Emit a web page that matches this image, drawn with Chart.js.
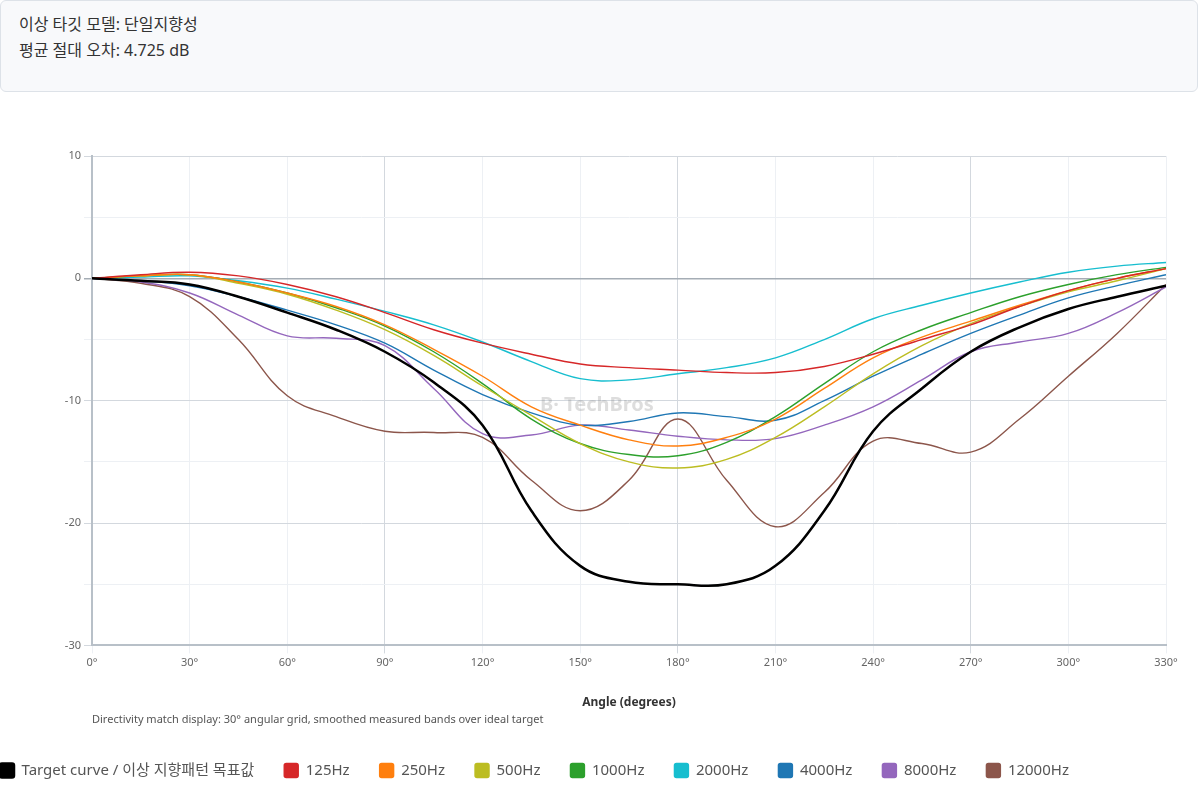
<!DOCTYPE html>
<html>
<head>
<meta charset="utf-8">
<script src="https://cdn.jsdelivr.net/npm/chart.js@4"></script>
<style>
  body { margin: 0; font-family: "Noto Sans", "Noto Sans CJK KR", sans-serif; background: #fff; overflow: hidden; }
  .info { position: absolute; left: 0; top: 0; width: 1198px; height: 92px; background: #f8f9fb;
    border: 1px solid #dde2e8; border-radius: 6px; box-sizing: border-box; padding: 10px 18px;
    font-size: 16px; line-height: 26px; color: #333; }
  .wrap { position: absolute; left: -30px; top: 120px; width: 1230px; height: 680px; }
  .note { position: absolute; left: 92px; top: 711px; font-size: 11px; color: #555; }
  .mark { position: absolute; left: 540px; top: 390px; font-size: 20px; color: rgba(120,120,120,0.25); font-weight: bold; }
</style>
</head>
<body>
<div class="info">이상 타깃 모델: 단일지향성<br>평균 절대 오차: 4.725 dB</div>
<div class="wrap"><canvas id="c"></canvas></div>
<div class="note">Directivity match display: 30° angular grid, smoothed measured bands over ideal target</div>
<div class="mark">B· TechBros</div>
<script>
// ---------- DATA ----------
const angles = [0, 15, 30, 45, 60, 75, 90, 105, 120, 135, 150, 165, 180, 195, 210, 225, 240, 255, 270, 285, 300, 315, 330];

const target = [0, -0.2, -0.5, -1.5, -2.8, -4.2, -6, -8.5, -12, -19, -23.5, -24.8, -25, -25, -23.5, -19, -12.5, -9, -6, -4, -2.5, -1.5, -0.6];
const hz125 = [0, 0.3, 0.5, 0.2, -0.5, -1.5, -2.8, -4.2, -5.3, -6.2, -7, -7.3, -7.5, -7.7, -7.7, -7.2, -6.2, -5, -3.8, -2.3, -1, 0, 0.8];
const hz250 = [0, 0.2, 0.3, -0.3, -1.2, -2.3, -3.8, -5.8, -8, -10.5, -12, -13.2, -13.7, -13, -11.5, -9, -6.5, -4.8, -3.5, -2.2, -1, 0, 0.8];
const hz500 = [0, 0.2, 0.3, -0.4, -1.3, -2.6, -4.2, -6.3, -8.8, -11.2, -13.5, -15, -15.5, -14.8, -13, -10.5, -7.8, -5.5, -3.7, -2.3, -1.1, -0.2, 0.8];
const hz1000 = [0, 0.2, 0.3, -0.3, -1.2, -2.4, -3.9, -6, -8.6, -11.5, -13.5, -14.4, -14.5, -13.4, -11.3, -8.6, -6, -4.2, -2.8, -1.5, -0.5, 0.3, 0.9];
const hz2000 = [0, 0.1, 0.2, -0.2, -0.8, -1.7, -2.7, -3.8, -5.2, -6.8, -8.2, -8.3, -7.8, -7.3, -6.5, -5, -3.3, -2.2, -1.2, -0.3, 0.5, 1, 1.3];
const hz4000 = [0, -0.2, -0.6, -1.5, -2.6, -3.8, -5.3, -7.5, -9.5, -11, -12, -11.7, -11, -11.3, -11.6, -10, -8, -6.2, -4.5, -3, -1.6, -0.6, 0.3];
const hz8000 = [0, -0.3, -1.2, -3, -4.7, -4.9, -5.5, -9, -12.7, -12.8, -12, -12.4, -12.9, -13.2, -13.1, -12, -10.5, -8.3, -6, -5.2, -4.5, -2.8, -0.7];
const hz12000 = [0, -0.4, -1.5, -5, -9.6, -11.3, -12.5, -12.6, -13, -16.5, -19, -16.5, -11.5, -16.5, -20.3, -17.5, -13.3, -13.5, -14.2, -11.5, -8, -4.5, -0.5];

const bands = [
  { label: "125Hz", data: hz125, color: "#d62728" },
  { label: "250Hz", data: hz250, color: "#ff7f0e" },
  { label: "500Hz", data: hz500, color: "#bcbd22" },
  { label: "1000Hz", data: hz1000, color: "#2ca02c" },
  { label: "2000Hz", data: hz2000, color: "#17becf" },
  { label: "4000Hz", data: hz4000, color: "#1f77b4" },
  { label: "8000Hz", data: hz8000, color: "#9467bd" },
  { label: "12000Hz", data: hz12000, color: "#8c564b" }
];

const pts = arr => arr.map((v, i) => ({ x: angles[i], y: v }));

// ---------- CHART ----------
const datasets = [{
  label: "Target curve / 이상 지향패턴 목표값",
  data: pts(target),
  borderColor: "#000", backgroundColor: "#000",
  borderWidth: 2.5, pointRadius: 0, tension: 0.4, order: 0
}].concat(bands.map(b => ({
  label: b.label, data: pts(b.data),
  borderColor: b.color, backgroundColor: b.color,
  borderWidth: 1.4, pointRadius: 0, tension: 0.4
})));

Chart.defaults.font.family = '"Noto Sans", "Noto Sans CJK KR", sans-serif';

new Chart(document.getElementById("c"), {
  type: "line",
  data: { datasets },
  options: {
    responsive: true,
    maintainAspectRatio: false,
    animation: false,
    layout: { padding: { left: 0, right: 34, top: 36, bottom: 12 } },
    plugins: {
      legend: {
        position: "bottom", align: "start",
        labels: { boxWidth: 14, boxHeight: 14, useBorderRadius: true, borderRadius: 2,
          color: "#555", font: { size: 15 }, padding: 30 }
      },
      tooltip: { enabled: false }
    },
    scales: {
      x: {
        type: "linear", min: 0, max: 330,
        ticks: { stepSize: 30, color: "#666", font: { size: 11 }, callback: v => v + "°" },
        grid: { color: c => (c.tick && c.tick.value % 90 === 0 && c.tick.value > 0) ? "#d3d8de" : "#edf0f4", lineWidth: 1 },
        border: { color: "#b8c0c8", width: 2 },
        title: { display: true, text: "Angle (degrees)", color: "#333", font: { size: 12, weight: "bold" }, padding: { top: 23, bottom: 23 } }
      },
      y: {
        min: -30, max: 10,
        afterFit: s => { s.width = 122; },
        ticks: { stepSize: 5, color: "#666", font: { size: 11 }, callback: v => v % 10 === 0 ? v : "" },
        grid: { color: c => (c.tick && c.tick.value === 0) ? "#a5adb5" : (c.tick && c.tick.value % 10 === 0 ? "#d3d8de" : "#edf0f4"), lineWidth: c => (c.tick && c.tick.value === 0) ? 1.5 : 1 },
        border: { color: "#b8c0c8", width: 2 },
        title: { display: true, text: "Relative level / target (dB)", color: "#333", font: { size: 12, weight: "bold" } }
      }
    }
  }
});
</script>
</body>
</html>
